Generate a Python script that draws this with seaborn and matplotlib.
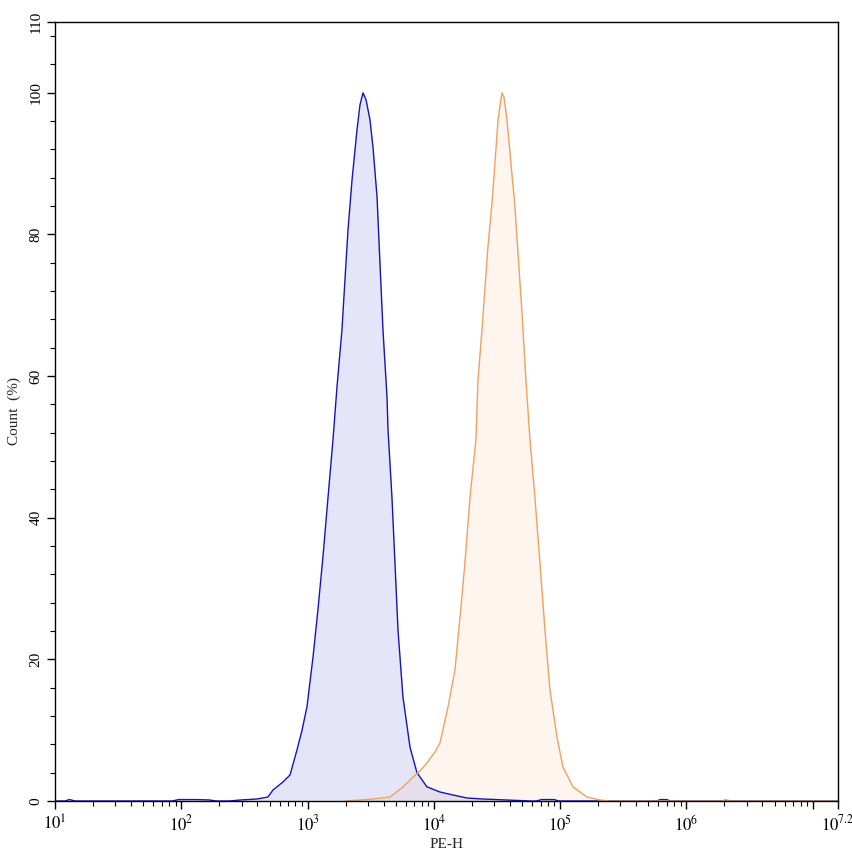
import numpy as np
import pandas as pd
import matplotlib
matplotlib.use("Agg")
import matplotlib.pyplot as plt
import matplotlib.ticker as mticker
import seaborn as sns

# ---- data (PE-H channel value, Count %) ----
blue_x = [10, 12, 13, 14.5, 85, 95, 130, 165, 190, 240,
          292, 397, 485, 532, 638, 726, 824, 904, 989, 1104, 1208, 1324,
          1452, 1589, 1710, 1871, 1977, 2089, 2249, 2460, 2600, 2748,
          2904, 3119, 3296, 3548, 3741, 3954, 4256, 4335, 4656, 4920,
          5200, 5689, 6471, 7345, 8810, 11170, 14160, 18280, 24490,
          37930, 57680, 65000, 71000, 90000, 97000, 580000, 620000,
          700000, 740000, 15800000]
blue_y = [0, 0, 0.2, 0, 0, 0.2, 0.2, 0.15, 0, 0,
          0.14, 0.28, 0.56, 1.55, 2.68, 3.67, 7.2, 10.0, 13.3, 20.3, 27.0, 34.5,
          42.9, 51.0, 58.5, 66.5, 73.6, 80.6, 87.7, 94.7, 98.3, 100.0,
          99.0, 96.2, 92.3, 85.3, 76.0, 66.5, 57.0, 52.4, 42.9, 33.6,
          24.1, 14.7, 7.6, 4.0, 2.0, 1.27, 0.85, 0.42, 0.28,
          0.14, 0, 0, 0.2, 0.2, 0, 0, 0.2,
          0.2, 0, 0]

orange_x = [2000, 2600, 3296, 4487, 5689, 6839, 7762, 8810, 10210, 11170,
            12940, 14690, 16110, 17620, 19320, 21530, 22340, 24040, 25410,
            26790, 28840, 30480, 32210, 34590, 35890, 37930, 40740, 43850,
            46340, 49890, 53580, 57680, 63100, 69180, 75860, 82990, 94410,
            105200, 126200, 162900, 206500, 247700, 1900000, 2050000,
            2200000, 15800000]
orange_y = [0, 0.14, 0.28, 0.56, 1.98, 3.39, 4.24, 5.37, 6.92, 8.19,
            13.3, 18.5, 26.0, 33.6, 42.9, 51.0, 59.4, 66.5, 72.6,
            78.2, 84.4, 90.1, 96.2, 100.0, 99.4, 96.2, 90.1, 83.9,
            77.4, 68.9, 59.4, 51.0, 42.9, 33.6, 24.1, 15.7, 9.0,
            4.8, 2.0, 0.56, 0.14, 0, 0, 0.2,
            0, 0]

series_names = ["Control", "Sample"]
line_colors = ["#1414B8", "#F0A060"]
fill_colors = ["#0000D0", "#F4A460"]

xtick_exps = ["1", "2", "3", "4", "5", "6", "7", "7.2"]
xtick_labels = [r"$10^{1}$", r"$10^{2}$", r"$10^{3}$", r"$10^{4}$",
                r"$10^{5}$", r"$10^{6}$", "", r"$10^{7.2}$"]
ytick_vals = [0, 20, 40, 60, 80, 100, 110]

# ---- build table ----
df = pd.concat([
    pd.DataFrame({"PE-H": blue_x, "Count": blue_y, "series": series_names[0]}),
    pd.DataFrame({"PE-H": orange_x, "Count": orange_y, "series": series_names[1]}),
], ignore_index=True)

sns.set_theme(style="ticks")
plt.rcParams["font.family"] = ["Liberation Serif", "DejaVu Serif"]
plt.rcParams["mathtext.fontset"] = "stix"

fig = plt.figure(figsize=(8.53, 8.56), dpi=100)
ax = fig.add_axes([55 / 853, 1 - 801 / 856, 783 / 853, 779 / 856])

sns.lineplot(data=df, x="PE-H", y="Count", hue="series", hue_order=series_names,
             palette=line_colors, estimator=None, sort=False, linewidth=1.0,
             legend=False, ax=ax)

for name, col in zip(series_names, fill_colors):
    sub = df[df["series"] == name]
    ax.fill_between(sub["PE-H"], 0, sub["Count"], color=col, alpha=0.1,
                    linewidth=0)

ax.set_xscale("log")
xmin = 10.0
xmax = 10 ** float(xtick_exps[-1])
ax.set_xlim(xmin, xmax)
ax.set_ylim(0, 110)

xt = [10 ** float(e) for e in xtick_exps]
ax.xaxis.set_major_locator(mticker.FixedLocator(xt))
ax.set_xticklabels(xtick_labels)
ax.xaxis.set_minor_locator(mticker.LogLocator(base=10, subs=np.arange(2, 10), numticks=100))
ax.xaxis.set_minor_formatter(mticker.NullFormatter())

ax.yaxis.set_major_locator(mticker.FixedLocator(ytick_vals))
ax.set_yticklabels([str(v) for v in ytick_vals], rotation=90, va="center")
ax.yaxis.set_minor_locator(mticker.MultipleLocator(4))

ax.tick_params(axis="both", which="major", direction="out", length=6, width=1,
               labelsize=11, color="black", labelcolor="black", pad=3)
ax.tick_params(axis="both", which="minor", direction="out", length=3.5, width=0.8,
               color="black")
ax.tick_params(axis="x", which="major", pad=4, labelsize=12)

for s in ax.spines.values():
    s.set_visible(True)
    s.set_color("black")
    s.set_linewidth(1.0)
    s.set_zorder(5)

ax.set_xlabel("PE-H", fontsize=11, labelpad=2)
ax.set_ylabel("Count  (%)", fontsize=11, labelpad=6)
ax.set_facecolor("white")
fig.patch.set_facecolor("white")

fig.savefig("out.png", dpi=100)
